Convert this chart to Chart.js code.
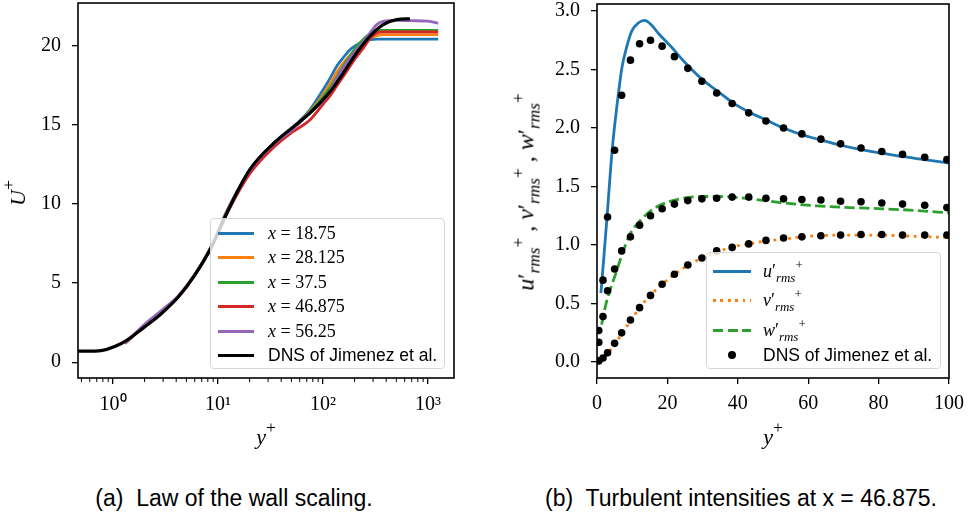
<!DOCTYPE html>
<html>
<head>
<meta charset="utf-8">
<script src="https://cdn.jsdelivr.net/npm/chart.js@4.4.1/dist/chart.umd.min.js"></script>
<style>
  body { margin: 0; width: 970px; height: 518px; background: #fff; position: relative; overflow: hidden; }
  canvas { position: absolute; top: 0; }
  .t { position: absolute; white-space: nowrap; color: #000; font-family: "Liberation Serif", serif; transform: translate(-50%, -50%); }
  .rot { transform: translate(-50%, -50%) rotate(-90deg); }
  .cap { font-family: "Liberation Sans", sans-serif; font-size: 23px; }
  .leg { position: absolute; background: rgba(255,255,255,0.8); border: 1px solid #d6d6d6; border-radius: 4px; box-sizing: border-box; }
  .row { position: absolute; left: 0; right: 0; height: 24px; }
  .sw { position: absolute; height: 3px; top: 10.5px; }
  .txt { position: absolute; top: 0; line-height: 24px; white-space: nowrap; }
  .m { font-family: "Liberation Serif", serif; font-size: 18px; }
  .s { font-family: "Liberation Sans", sans-serif; font-size: 17.5px; }
  sub, sup { font-size: 72%; line-height: 0; }
  sub { vertical-align: -0.35em; }
  sup { vertical-align: 0.6em; }
  .big sup { font-size: 80%; }
</style>
</head>
<body>
<canvas id="chartA" width="485" height="420" style="left:0"></canvas>
<canvas id="chartB" width="485" height="420" style="left:485px"></canvas>

<div class="t rot big" style="left:18px;top:193px;font-size:22px"><i>U</i><sup>+</sup></div>
<div class="t big" style="left:266px;top:437px;font-size:22px"><i>y</i><sup>+</sup></div>
<div class="t rot" style="left:526px;top:192px;font-size:24px"><i>u</i>′<sub><i>rms</i></sub><sup>+</sup>&nbsp;,&nbsp;<i>v</i>′<sub><i>rms</i></sub><sup>+</sup>&nbsp;,&nbsp;<i>w</i>′<sub><i>rms</i></sub><sup>+</sup></div>
<div class="t big" style="left:773px;top:437px;font-size:22px"><i>y</i><sup>+</sup></div>

<div class="t cap" style="left:234px;top:498px">(a)&nbsp; Law of the wall scaling.</div>
<div class="t cap" style="left:741px;top:498px">(b)&nbsp; Turbulent intensities at x = 46.875.</div>

<div id="legA" class="leg" style="left:210px;top:218px;width:235px;height:151px"></div>
<div id="legB" class="leg" style="left:706px;top:252px;width:235px;height:117px"></div>

<script>
// ---------- (a) law of the wall ----------
const lesYPlus = [1.3, 2, 3, 4.2, 6, 8.7, 12.5, 20, 33.5, 50, 75, 100, 117, 135, 156, 181, 209, 242, 280, 325, 375, 500, 700, 1000, 1250];
const uPlusX1875  = [1.2, 2.3, 3.25, 4.15, 5.5, 7.35, 9.7, 12.1, 13.8, 14.75, 15.95, 17.2, 17.95, 18.7, 19.25, 19.75, 20.05, 20.27, 20.38, 20.42, 20.42, 20.42, 20.42, 20.42, 20.42];
const uPlusX28125 = [1.2, 2.3, 3.25, 4.15, 5.5, 7.35, 9.7, 12.1, 13.8, 14.7, 15.85, 16.9, 17.6, 18.3, 18.9, 19.4, 19.85, 20.2, 20.47, 20.63, 20.7, 20.7, 20.7, 20.7, 20.7];
const uPlusX375   = [1.2, 2.3, 3.25, 4.15, 5.5, 7.35, 9.7, 12.1, 13.8, 14.7, 15.8, 16.75, 17.35, 18.0, 18.7, 19.35, 19.95, 20.4, 20.76, 20.95, 20.97, 20.97, 20.97, 20.97, 20.97];
const uPlusX46875 = [1.2, 2.3, 3.25, 4.15, 5.5, 7.3, 9.55, 11.9, 13.55, 14.5, 15.3, 16.3, 16.85, 17.45, 18.06, 18.7, 19.3, 19.85, 20.45, 20.8, 20.87, 20.87, 20.87, 20.87, 20.87];
const uPlusX5625  = [1.2, 2.4, 3.35, 4.2, 5.55, 7.35, 9.7, 12.1, 13.75, 14.65, 15.75, 16.5, 17.15, 17.9, 18.6, 19.2, 19.75, 20.25, 20.8, 21.33, 21.54, 21.6, 21.58, 21.55, 21.42];
const dnsMeanYPlus = [0.4, 0.68, 1.2, 2.0, 2.9, 4.2, 6, 8.7, 12.5, 20, 33.5, 60, 75, 117, 156, 209, 280, 375, 503, 674];
const dnsMeanU     = [0.7, 0.7, 1.18, 2.23, 3.08, 4.13, 5.5, 7.3, 9.6, 12.15, 13.8, 15.2, 15.74, 17.1, 18.27, 19.54, 20.6, 21.33, 21.65, 21.7];
const meanLabels = ['x = 18.75', 'x = 28.125', 'x = 37.5', 'x = 46.875', 'x = 56.25'];
const meanColors = ['#1f77b4', '#ff7f0e', '#2ca02c', '#d62728', '#9467bd'];
const xTicksA = [1, 10, 100, 1000];
const xTickLabelsA = ['10⁰', '10¹', '10²', '10³'];
const yTicksA = [0, 5, 10, 15, 20];
const xMinorTicksA = [];
[0.1, 1, 10, 100].forEach(d => { for (let k = 2; k <= 9; k++) xMinorTicksA.push(k * d); });

// ---------- (b) turbulent intensities ----------
const uRmsYPlus = [1.1, 1.9, 2.8, 4.3, 5.7, 7.1, 8.5, 9.9, 11.8, 13.5, 15.5, 17.4, 21.2, 25, 29.7, 34.5, 38.4, 43, 48, 53, 58, 64, 69, 75, 81, 87, 93, 100];
const uRms      = [0.59, 0.88, 1.22, 1.81, 2.2, 2.52, 2.7, 2.83, 2.9, 2.92, 2.88, 2.81, 2.69, 2.56, 2.42, 2.31, 2.22, 2.14, 2.07, 2.0, 1.945, 1.895, 1.855, 1.815, 1.785, 1.755, 1.73, 1.7];
const vRmsYPlus = [0.8, 2, 3, 5, 7, 9.5, 12, 15, 18.5, 22, 26, 30, 34, 38, 43, 48, 53, 60, 70, 80, 90, 100];
const vRms      = [0.0, 0.03, 0.07, 0.15, 0.24, 0.35, 0.46, 0.565, 0.665, 0.75, 0.83, 0.89, 0.94, 0.98, 1.01, 1.035, 1.05, 1.075, 1.085, 1.085, 1.075, 1.065];
const wRmsYPlus = [1.3, 2.5, 4.0, 5.6, 7.0, 9.5, 12.3, 16.1, 19.9, 24.6, 30.3, 35, 43.5, 52.9, 62.4, 71.9, 81.3, 90.8, 100];
const wRms      = [0.32, 0.49, 0.64, 0.78, 0.91, 1.1, 1.21, 1.31, 1.365, 1.4, 1.415, 1.415, 1.395, 1.36, 1.335, 1.32, 1.31, 1.295, 1.275];
const dnsRmsYPlus = [0.5, 1.7, 3.0, 5.0, 7.0, 9.5, 12.1, 15.2, 18.5, 22.0, 25.8, 29.8, 34.0, 38.4, 43.1, 48.0, 53.0, 58.2, 63.6, 69.2, 75.0, 80.9, 86.8, 93.1, 99.4];
const dnsURms = [0.27, 0.70, 1.24, 1.81, 2.28, 2.58, 2.72, 2.75, 2.70, 2.61, 2.51, 2.40, 2.30, 2.21, 2.13, 2.06, 2.00, 1.95, 1.905, 1.865, 1.83, 1.80, 1.775, 1.75, 1.73];
const dnsVRms = [0.01, 0.035, 0.08, 0.16, 0.25, 0.36, 0.465, 0.57, 0.665, 0.75, 0.83, 0.89, 0.95, 0.98, 1.01, 1.04, 1.06, 1.07, 1.08, 1.085, 1.09, 1.09, 1.085, 1.085, 1.085];
const dnsWRms = [0.17, 0.39, 0.61, 0.795, 0.95, 1.07, 1.17, 1.25, 1.31, 1.35, 1.38, 1.395, 1.40, 1.41, 1.41, 1.40, 1.395, 1.39, 1.385, 1.375, 1.37, 1.36, 1.35, 1.34, 1.32];
const xTicksB = [0, 20, 40, 60, 80, 100];
const yTicksB = [0, 0.5, 1.0, 1.5, 2.0, 2.5, 3.0];

const pts = (xs, ys) => xs.map((x, i) => ({x: x, y: ys[i]}));
const tickFont = {family: 'Liberation Serif', size: 20};

// 枠線（4辺）
const framePlugin = {
    id: 'frame',
    afterDraw(chart) {
        const a = chart.chartArea, ctx = chart.ctx;
        ctx.save();
        ctx.strokeStyle = '#000';
        ctx.lineWidth = 1.6;
        ctx.strokeRect(a.left, a.top, a.right - a.left, a.bottom - a.top);
        ctx.restore();
    }
};

// 対数軸の補助目盛り
const minorTickPlugin = {
    id: 'minorTicks',
    afterDraw(chart) {
        const s = chart.scales.x, ctx = chart.ctx, b = chart.chartArea.bottom;
        ctx.save();
        ctx.strokeStyle = '#000';
        ctx.lineWidth = 1;
        ctx.beginPath();
        xMinorTicksA.forEach(v => {
            const p = s.getPixelForValue(v);
            if (p < chart.chartArea.left || p > chart.chartArea.right) return;
            ctx.moveTo(p, b);
            ctx.lineTo(p, b + 4);
        });
        ctx.stroke();
        ctx.restore();
    }
};

function fixBox(size, horizontal) {
    return s => {
        if (horizontal) s.height = size; else s.width = size;
        s.paddingTop = s.paddingBottom = s.paddingLeft = s.paddingRight = 0;
    };
}

function axisOpts(extra) {
    return Object.assign({
        grid: {drawOnChartArea: false, drawTicks: true, tickLength: 6, color: '#000', lineWidth: 1.3},
        border: {display: false},
    }, extra);
}

const baseOpts = {
    responsive: false,
    animation: false,
    devicePixelRatio: 1,
    plugins: {legend: {display: false}, tooltip: {enabled: false}},
    elements: {point: {radius: 0}},
};

// (a)
let meanSets = meanLabels.map((lab, i) => ({
    label: lab,
    data: pts(lesYPlus, [uPlusX1875, uPlusX28125, uPlusX375, uPlusX46875, uPlusX5625][i]),
    borderColor: meanColors[i],
    borderWidth: 2.8,
    cubicInterpolationMode: 'monotone',
    order: 5 - i
}));
meanSets.push({
    label: 'DNS of Jimenez et al.',
    data: pts(dnsMeanYPlus, dnsMeanU),
    borderColor: '#000',
    borderWidth: 3.2,
    cubicInterpolationMode: 'monotone',
    order: 0
});

new Chart(document.getElementById('chartA').getContext('2d'), {
    type: 'line',
    data: {datasets: meanSets},
    options: Object.assign({}, baseOpts, {
        layout: {padding: {top: 3, right: 31, left: 0, bottom: 0}},
        scales: {
            x: axisOpts({
                type: 'logarithmic', min: 0.464, max: 1770,
                afterBuildTicks: s => { s.ticks = xTicksA.map(v => ({value: v, major: true})); },
                ticks: {font: tickFont, color: '#000', padding: 9, autoSkip: false, maxRotation: 0,
                        callback: (v, i) => xTickLabelsA[i]},
                afterFit: fixBox(42, true)
            }),
            y: axisOpts({
                type: 'linear', min: -1.0, max: 22.7,
                afterBuildTicks: s => { s.ticks = yTicksA.map(v => ({value: v})); },
                ticks: {font: tickFont, color: '#000', padding: 11, callback: v => String(v)},
                afterFit: fixBox(78, false)
            })
        }
    }),
    plugins: [framePlugin, minorTickPlugin]
});

// (b)
new Chart(document.getElementById('chartB').getContext('2d'), {
    type: 'line',
    data: {
        datasets: [
            {label: 'u', data: pts(uRmsYPlus, uRms), borderColor: '#1f77b4', borderWidth: 2.8, cubicInterpolationMode: 'monotone', order: 3},
            {label: 'v', data: pts(vRmsYPlus, vRms), borderColor: '#ff7f0e', borderWidth: 2.8, borderDash: [2.8, 4.6], cubicInterpolationMode: 'monotone', order: 2},
            {label: 'w', data: pts(wRmsYPlus, wRms), borderColor: '#2ca02c', borderWidth: 2.8, borderDash: [10.3, 4.4], cubicInterpolationMode: 'monotone', order: 1},
            {label: 'DNS u', data: pts(dnsRmsYPlus, dnsURms), showLine: false, pointRadius: 3.8, pointBackgroundColor: '#000', pointBorderWidth: 0, order: 0},
            {label: 'DNS v', data: pts(dnsRmsYPlus, dnsVRms), showLine: false, pointRadius: 3.8, pointBackgroundColor: '#000', pointBorderWidth: 0, order: 0},
            {label: 'DNS w', data: pts(dnsRmsYPlus, dnsWRms), showLine: false, pointRadius: 3.8, pointBackgroundColor: '#000', pointBorderWidth: 0, order: 0}
        ]
    },
    options: Object.assign({}, baseOpts, {
        layout: {padding: {top: 3, right: 21, left: 0, bottom: 0}},
        scales: {
            x: axisOpts({
                type: 'linear', min: 0, max: 100,
                afterBuildTicks: s => { s.ticks = xTicksB.map(v => ({value: v})); },
                ticks: {font: tickFont, color: '#000', padding: 8, maxRotation: 0, callback: v => String(v)},
                afterFit: fixBox(42, true)
            }),
            y: axisOpts({
                type: 'linear', min: -0.136, max: 3.06,
                afterBuildTicks: s => { s.ticks = yTicksB.map(v => ({value: v})); },
                ticks: {font: tickFont, color: '#000', padding: 11, callback: v => v.toFixed(1)},
                afterFit: fixBox(112, false)
            })
        }
    }),
    plugins: [framePlugin]
});

// 凡例（HTML）
const solid = c => 'background:' + c;
const dotted = c => 'background:repeating-linear-gradient(90deg,' + c + ' 0 2.8px,transparent 2.8px 7.4px)';
const dashed = c => 'background:repeating-linear-gradient(90deg,' + c + ' 0 10.3px,transparent 10.3px 14.7px)';

function buildLegend(el, rows) {
    el.innerHTML = rows.map(r =>
        '<div class="row" style="top:' + (r.y - 12) + 'px">' +
        (r.dot ? '<div style="position:absolute;left:' + (r.swX + r.swW / 2 - 4) + 'px;top:8px;width:8px;height:8px;border-radius:50%;background:#000"></div>'
               : '<div class="sw" style="left:' + r.swX + 'px;width:' + r.swW + 'px;' + r.style + '"></div>') +
        '<div class="txt ' + r.cls + '" style="left:' + r.txX + 'px">' + r.html + '</div></div>').join('');
}

const rowsA = meanLabels.map((lab, i) => ({
    y: [14, 38, 63, 87, 112][i], swX: 7, swW: 36, txX: 57, style: solid(meanColors[i]), cls: 'm',
    html: '<i>x</i> = ' + lab.split('= ')[1]
}));
rowsA.push({y: 136, swX: 7, swW: 36, txX: 57, style: solid('#000'), cls: 's', html: 'DNS of Jimenez et al.'});
buildLegend(document.getElementById('legA'), rowsA);

const rmsTerm = c => '<i>' + c + '</i>′<sub><i>rms</i></sub><sup>+</sup>';
buildLegend(document.getElementById('legB'), [
    {y: 18, swX: 6, swW: 38, txX: 56, style: solid('#1f77b4'), cls: 'm', html: rmsTerm('u')},
    {y: 47, swX: 6, swW: 38, txX: 56, style: dotted('#ff7f0e'), cls: 'm', html: rmsTerm('v')},
    {y: 77, swX: 6, swW: 38, txX: 56, style: dashed('#2ca02c'), cls: 'm', html: rmsTerm('w')},
    {y: 102, swX: 6, swW: 38, txX: 56, dot: true, cls: 's', html: 'DNS of Jimenez et al.'}
]);
</script>
</body>
</html>
